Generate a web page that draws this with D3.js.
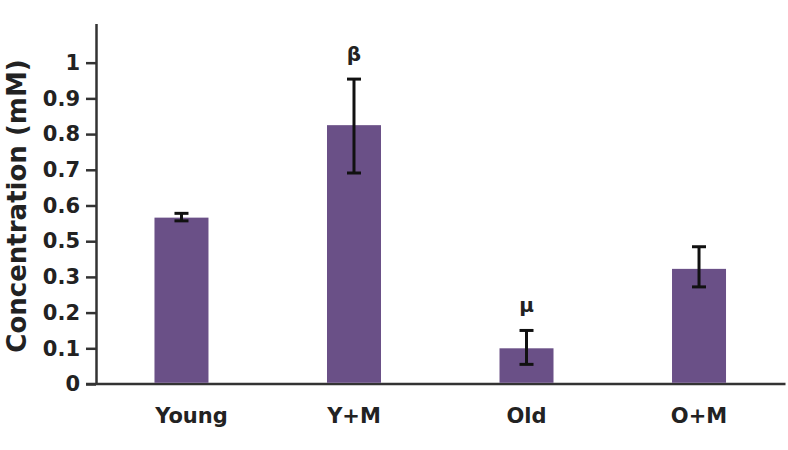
<!DOCTYPE html>
<html><head><meta charset="utf-8">
<script src="https://cdn.jsdelivr.net/npm/d3@7"></script>
<style>body{margin:0;background:#fff}svg{display:block}</style>
</head><body>
<svg id="chart" width="788" height="450"></svg>
<script>
const categories = ["Young", "Y+M", "Old", "O+M"];
const values = [0.566, 0.825, 0.10, 0.345];
const errLow = [0.557, 0.691, 0.055, 0.272];
const errHigh = [0.578, 0.954, 0.150, 0.469];
const marks = ["", "β", "μ", ""];
const tickValues = [0, 0.1, 0.2, 0.3, 0.5, 0.6, 0.7, 0.8, 0.9, 1];
const tickLabels = ["0", "0.1", "0.2", "0.3", "0.5", "0.6", "0.7", "0.8", "0.9", "1"];

const svg = d3.select("#chart");
const axisColor = "#333";
const barColor = "#6a5087";
const font = "'DejaVu Sans', sans-serif";

// The original axis places 0.3 and 0.5 one tick apart: piecewise linear scale
const y = d3.scaleLinear()
  .domain([0, 0.3, 0.5, 1.11])
  .range([384, 276.9, 241.2, 23.4]);

const x = d3.scaleBand().domain(categories)
  .range([96, 784.5]).paddingInner(0.687).paddingOuter(0.339);

// y axis
const yAxis = d3.axisLeft(y).tickValues(tickValues)
  .tickFormat((d, i) => tickLabels[i]).tickSize(10).tickSizeOuter(0).tickPadding(6);
const gy = svg.append("g").attr("transform", "translate(96,0)").call(yAxis);
gy.select(".domain").attr("stroke", axisColor).attr("stroke-width", 2.5);
gy.selectAll(".tick line").attr("stroke", axisColor).attr("stroke-width", 2.5);
gy.selectAll(".tick text").attr("fill", "#222").attr("font-family", font)
  .attr("font-weight", "bold").attr("font-size", 21);

// x axis line
svg.append("line").attr("x1", 86).attr("x2", 785.5).attr("y1", y(0)).attr("y2", y(0))
  .attr("stroke", axisColor).attr("stroke-width", 2.5);

// bars
svg.selectAll("rect.bar").data(values).join("rect").attr("class", "bar")
  .attr("x", (d, i) => x(categories[i]))
  .attr("width", x.bandwidth())
  .attr("y", d => y(d))
  .attr("height", d => y(0) - y(d) - 1.2)
  .attr("fill", barColor);

// error bars
const eb = svg.append("g").attr("stroke", "#111").attr("stroke-width", 3);
categories.forEach((c, i) => {
  const cx = x(c) + x.bandwidth() / 2;
  eb.append("line").attr("x1", cx).attr("x2", cx).attr("y1", y(errLow[i])).attr("y2", y(errHigh[i]));
  eb.append("line").attr("x1", cx - 7).attr("x2", cx + 7).attr("y1", y(errLow[i])).attr("y2", y(errLow[i]));
  eb.append("line").attr("x1", cx - 7).attr("x2", cx + 7).attr("y1", y(errHigh[i])).attr("y2", y(errHigh[i]));
});

// significance marks
svg.selectAll("text.mark").data(marks).join("text").attr("class", "mark")
  .attr("x", (d, i) => x(categories[i]) + x.bandwidth() / 2)
  .attr("y", (d, i) => y(errHigh[i]) - 18)
  .attr("text-anchor", "middle").attr("font-family", font).attr("font-weight", "bold")
  .attr("font-size", 20).attr("fill", "#222").text(d => d);

// category labels
svg.selectAll("text.cat").data(categories).join("text").attr("class", "cat")
  .attr("x", d => x(d) + x.bandwidth() / 2 + (d === "Young" ? 10 : 0))
  .attr("y", 423)
  .attr("text-anchor", "middle").attr("font-family", font).attr("font-weight", "bold")
  .attr("font-size", 21).attr("fill", "#222").text(d => d);

// y title
svg.append("text").attr("transform", "translate(26,206) rotate(-90)")
  .attr("text-anchor", "middle").attr("font-family", font).attr("font-weight", "bold")
  .attr("font-size", 26).attr("fill", "#222").text("Concentration (mM)");
</script>
</body></html>
